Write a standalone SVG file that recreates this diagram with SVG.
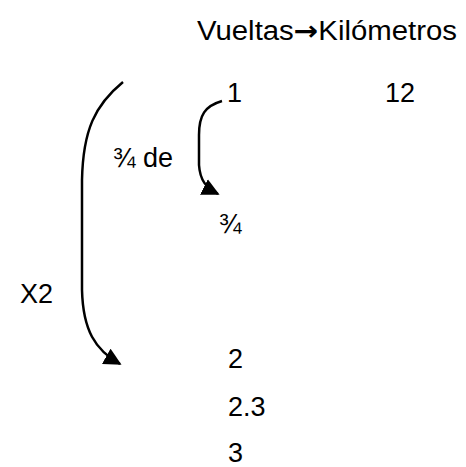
<svg xmlns="http://www.w3.org/2000/svg" width="466" height="467" viewBox="0 0 466 467">
<style>
text{font-family:"Liberation Sans",Arial,sans-serif;font-size:27px;fill:#000}
.ar{font-family:"DejaVu Sans",sans-serif;font-weight:bold}
.c{fill:none;stroke:#000;stroke-width:2.5}
</style>
<defs>
<marker id="ah" viewBox="0 0 10 10" refX="9" refY="5" markerWidth="7" markerHeight="7" orient="auto" markerUnits="strokeWidth">
<path d="M0,0 L10,5 L0,10 z" fill="#000"/>
</marker>
</defs>
<rect width="466" height="467" fill="#fff"/>
<g id="labels">
<g id="title"><text x="197" y="40" textLength="260" lengthAdjust="spacingAndGlyphs">Vueltas<tspan class="ar">→</tspan>Kilómetros</text></g>
<g id="n1"><text x="227" y="102">1</text></g>
<g id="n12"><text x="385" y="102">12</text></g>
<g id="tresCuartosDe"><text x="113" y="167">¾ de</text></g>
<g id="tresCuartos"><text x="219" y="233">¾</text></g>
<g id="x2"><text x="20" y="303">X2</text></g>
<g id="n2"><text x="228" y="368">2</text></g>
<g id="n23"><text x="228" y="416">2.3</text></g>
<g id="n3"><text x="228" y="462">3</text></g>
</g>
<g id="connectors">
<path class="c" d="M123,82 C95,105 83,130 82,180 L82,290 C83,330 95,350 120,364" marker-end="url(#ah)"/>
<path class="c" d="M222,101 C205,106 199,115 199,135 L199,165 C200,180 206,188 218,194" marker-end="url(#ah)"/>
</g>
</svg>
